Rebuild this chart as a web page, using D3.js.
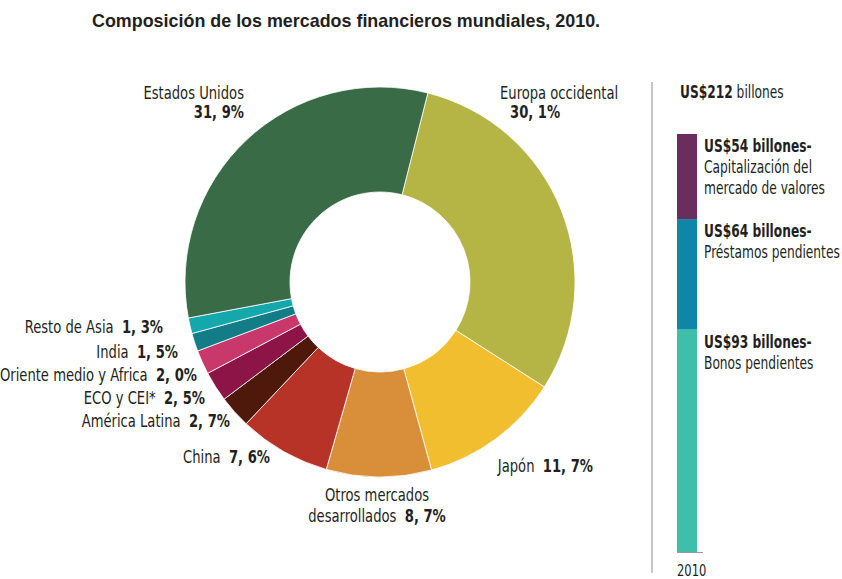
<!DOCTYPE html>
<html>
<head>
<meta charset="utf-8">
<script src="https://cdn.jsdelivr.net/npm/d3@7"></script>
<style>
  body { margin: 0; background: #fff; }
  text { font-family: "Liberation Sans Narrow", "DejaVu Sans Condensed", sans-serif; fill: #231f20; font-size: 17px; }
  .title { font-family: "Liberation Sans", sans-serif; font-weight: bold; font-size: 17.9px; }
  .b { font-weight: bold; }
</style>
</head>
<body>
<script>
'use strict';

// regions, clockwise from the top
var regions = ['Europa occidental', 'Japón', 'Otros mercados desarrollados', 'China', 'América Latina',
               'ECO y CEI*', 'Oriente medio y Africa', 'India', 'Resto de Asia', 'Estados Unidos'];
var shares = [30.1, 11.7, 8.7, 7.6, 2.7, 2.5, 2.0, 1.5, 1.3, 31.9];
var regionColors = ['#b4b545', '#f1be2f', '#d98e3a', '#b73327', '#4e190a',
                    '#8c1446', '#c9386a', '#127d87', '#14a8ac', '#386b46'];

// stacked bar, bottom to top
var barYear = '2010';
var barTotal = 212;
var parts = ['Bonos pendientes', 'Préstamos pendientes', 'Capitalización del|mercado de valores'];
var partValues = [93, 64, 54];
var partColors = ['#3dbfaa', '#0f86a8', '#6b2c5e'];

var w = 842, h = 579;
var svg = d3.select('body').append('svg').attr('width', w).attr('height', h);
var gap = '\u00a0\u00a0';

// a condensed text at x, y (the original uses a condensed face)
var label = function(x, y, anchor, squeeze) {
  return svg.append('g')
    .attr('transform', 'translate(' + x + ',' + y + ') scale(' + (squeeze || 0.86) + ',1)')
    .append('text')
    .attr('text-anchor', anchor || 'start');
};

svg.append('text').attr('class', 'title')
  .attr('x', 92).attr('y', 27)
  .text('Composición de los mercados financieros mundiales, 2010.');

// ---- donut ----
var cx = 380, cy = 282, rOut = 195, rIn = 90;
var a0 = 14.2 * Math.PI / 180;

var pie = d3.pie().sort(null).value(function(d) { return d; })
  .startAngle(a0).endAngle(a0 + 2 * Math.PI);
var arc = d3.arc().innerRadius(rIn).outerRadius(rOut);

var g = svg.append('g').attr('transform', 'translate(' + cx + ',' + cy + ')');
g.selectAll('path')
  .data(pie(shares))
  .enter()
  .append('path')
  .attr('d', arc)
  .attr('fill', function(d, i) { return regionColors[i]; })
  .attr('stroke', '#fff')
  .attr('stroke-width', 0.8);

var fmt = function(v) { return v.toFixed(1).replace('.', ', ') + '%'; };

// label placement (x, y of first baseline, anchor, layout)
var labelPos = {
  'Europa occidental':            {x: 500, y: 99,  anchor: 'start', stack: true, indent: 10},
  'Japón':                        {x: 593, y: 472, anchor: 'end'},
  'Otros mercados desarrollados': {x: 377, y: 501, anchor: 'middle', split: true},
  'China':                        {x: 270, y: 463, anchor: 'end'},
  'América Latina':               {x: 230, y: 427, anchor: 'end'},
  'ECO y CEI*':                   {x: 205, y: 404, anchor: 'end'},
  'Oriente medio y Africa':       {x: 197, y: 381, anchor: 'end'},
  'India':                        {x: 178, y: 358, anchor: 'end'},
  'Resto de Asia':                {x: 163, y: 333, anchor: 'end'},
  'Estados Unidos':               {x: 244, y: 99,  anchor: 'end', stack: true}
};

regions.forEach(function(name, i) {
  var p = labelPos[name];
  var t;
  if (p.stack) {
    label(p.x, p.y, p.anchor).text(name);
    label(p.x + (p.indent || 0), p.y + 19, p.anchor).attr('class', 'b').text(fmt(shares[i]));
  } else if (p.split) {
    label(p.x, p.y, 'middle').text('Otros mercados');
    t = label(p.x, p.y + 21, 'middle');
    t.append('tspan').text('desarrollados' + gap);
    t.append('tspan').attr('class', 'b').text(fmt(shares[i]));
  } else {
    t = label(p.x, p.y, p.anchor);
    t.append('tspan').text(name + gap);
    t.append('tspan').attr('class', 'b').text(fmt(shares[i]));
  }
});

// ---- stacked bar ----
var barX = 677, barW = 20, barTop = 134, barBottom = 552;
var stackTop = d3.sum(partValues);
// the original bar is drawn on a compressed scale
var y = d3.scalePow().exponent(0.77).domain([0, stackTop]).range([barBottom, barTop]);
var sq = 0.8;

svg.append('line')
  .attr('x1', 652).attr('x2', 652).attr('y1', 82).attr('y2', 573)
  .attr('stroke', '#b3b3b3').attr('stroke-width', 1.5);

var head = label(680, 98, 'start', sq);
head.append('tspan').attr('class', 'b').text('US$' + barTotal);
head.append('tspan').text(' billones');

var cum = 0;
var segs = partValues.map(function(v, i) {
  var s = {y0: cum, y1: cum + v, i: i};
  cum += v;
  return s;
});

svg.selectAll('.seg')
  .data(segs)
  .enter()
  .append('rect')
  .attr('class', 'seg')
  .attr('x', barX)
  .attr('width', barW)
  .attr('y', function(d) { return y(d.y1); })
  .attr('height', function(d) { return y(d.y0) - y(d.y1); })
  .attr('fill', function(d) { return partColors[d.i]; });

segs.forEach(function(d) {
  var ty = y(d.y1) + 18;
  var lines = parts[d.i].split('|');
  label(704, ty, 'start', sq).attr('class', 'b').text('US$' + partValues[d.i] + ' billones-');
  lines.forEach(function(l, k) {
    label(704, ty + 21 * (k + 1), 'start', sq).text(l);
  });
});

svg.append('line')
  .attr('x1', barX).attr('x2', barX + 26).attr('y1', barBottom + 0.5).attr('y2', barBottom + 0.5)
  .attr('stroke', '#999').attr('stroke-width', 1);

label(barX, 576, 'start', sq).style('font-size', '16px').text(barYear);
</script>
</body>
</html>
